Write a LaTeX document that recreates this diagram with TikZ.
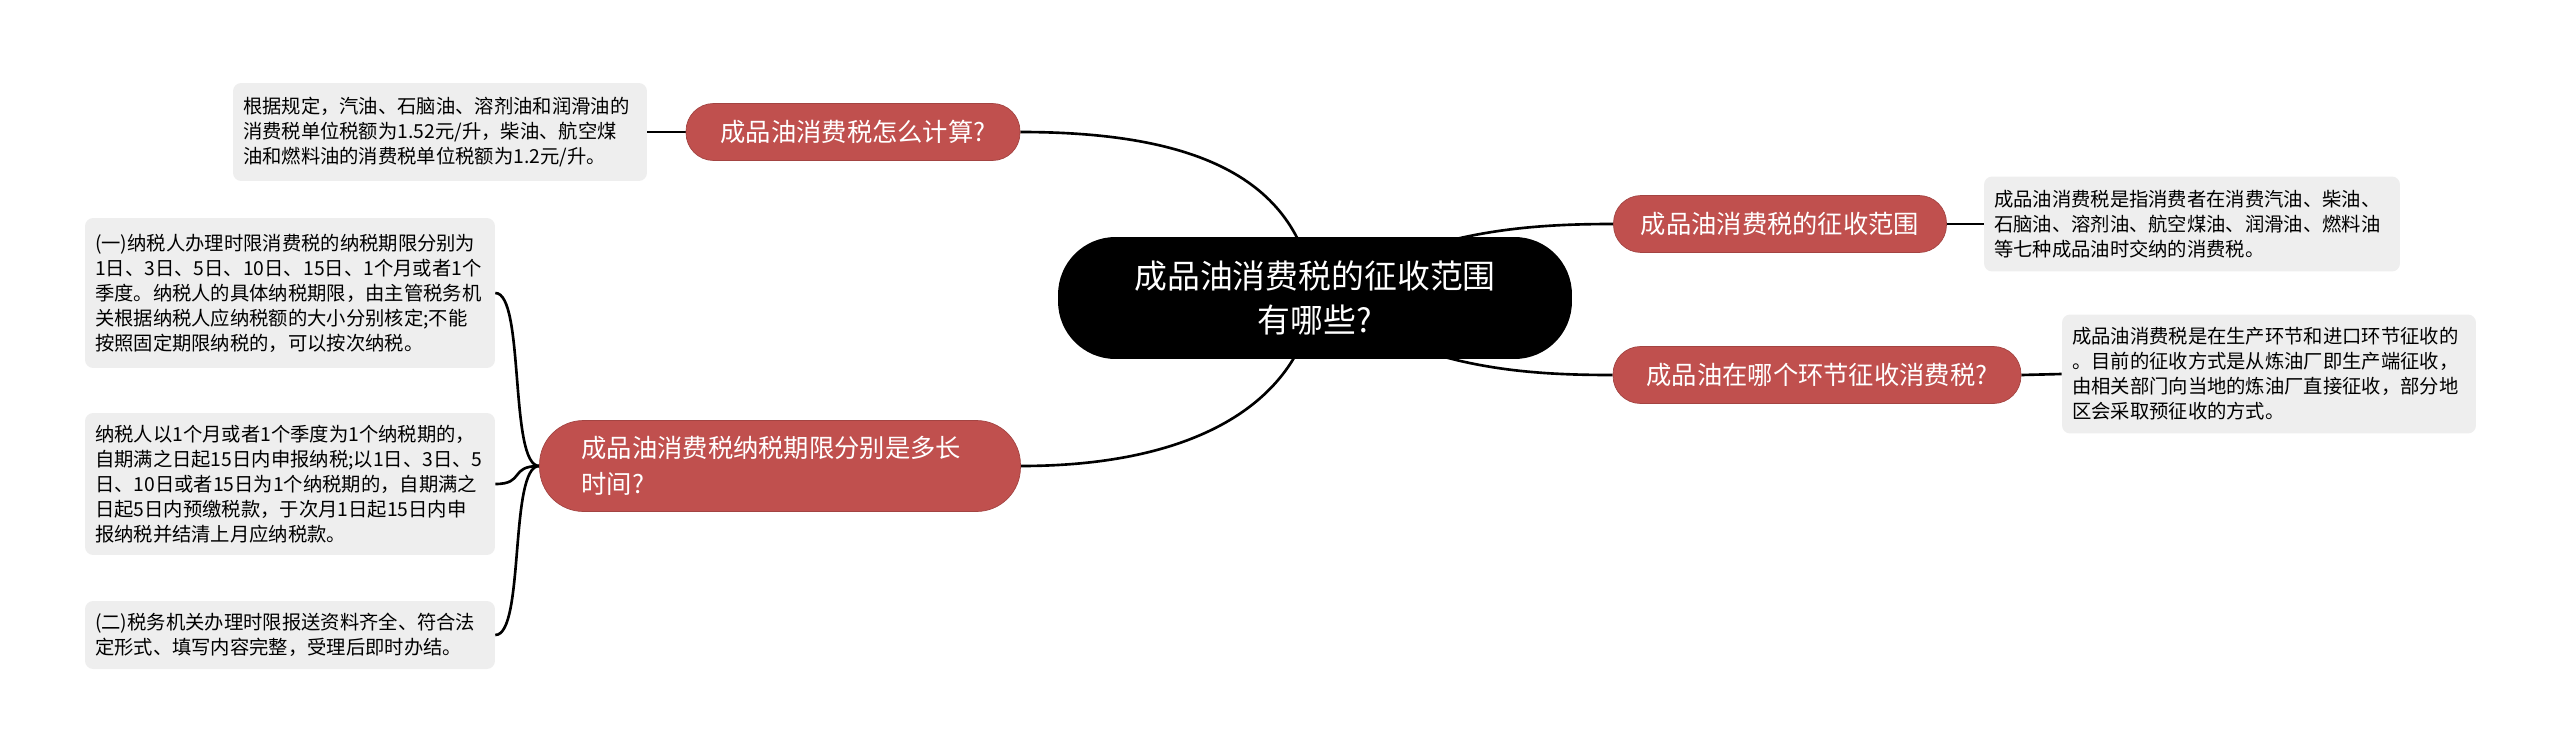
\documentclass[tikz,border=0pt]{standalone}
\usepackage{fontspec}
\setmainfont{Noto Sans CJK SC}
\usetikzlibrary{backgrounds}
\definecolor{topicred}{RGB}{192,80,78}
\definecolor{notegray}{RGB}{238,238,238}

\begin{document}
\begin{tikzpicture}[x=0.02cm, y=-0.02cm,
  rootnode/.style={fill=black, text=white, rounded corners=1.15cm, minimum width=10.28cm, minimum height=2.44cm, align=center, font=\fontsize{18.7}{25.5}\selectfont},
  topicnode/.style={fill=topicred, draw=topicred!85!black, line width=0.4pt, text=white, rounded corners=0.55cm, minimum height=1.14cm, align=center, inner sep=0pt, font=\fontsize{14.4}{20.4}\selectfont},
  notebox/.style={fill=notegray, rounded corners=0.16cm, inner xsep=0.2cm, inner ysep=0.08cm, align=left, text width=7.8cm, minimum width=8.2cm, font=\fontsize{11}{14.2}\selectfont},
  link/.style={line width=1.5pt, black}]
\useasboundingbox (0,0) rectangle (2560,754);
% Central topic
\node[rootnode] (root) at (1315,298) {成品油消费税的征收范围\\有哪些?};
% Left branches
\node[topicnode, minimum width=6.68cm] (calc) at (853,132) {成品油消费税怎么计算?};
\node[topicnode, minimum width=9.62cm, minimum height=1.82cm, rounded corners=0.88cm, align=left, text width=7.94cm, inner xsep=0.84cm] (period) at (780,466) {成品油消费税纳税期限分别是多长\\时间?};
% Right branches
\node[topicnode, minimum width=6.66cm] (scope) at (1780,224) {成品油消费税的征收范围};
\node[topicnode, minimum width=8.16cm] (stage) at (1817,375) {成品油在哪个环节征收消费税?};
% Notes
\node[notebox, text width=7.88cm, minimum width=8.28cm, minimum height=1.96cm] (calcnote) at (440,132) {根据规定，汽油、石脑油、溶剂油和润滑油的\\消费税单位税额为1.52元/升，柴油、航空煤\\油和燃料油的消费税单位税额为1.2元/升。};
\node[notebox, text width=7.92cm, minimum width=8.32cm, minimum height=1.9cm] (scopenote) at (2192,224) {成品油消费税是指消费者在消费汽油、柴油、\\石脑油、溶剂油、航空煤油、润滑油、燃料油\\等七种成品油时交纳的消费税。};
\node[notebox, text width=7.88cm, minimum width=8.28cm, minimum height=2.38cm] (stagenote) at (2269,374) {成品油消费税是在生产环节和进口环节征收的\\。目前的征收方式是从炼油厂即生产端征收，\\由相关部门向当地的炼油厂直接征收，部分地\\区会采取预征收的方式。};
\node[notebox, minimum height=3.0cm] (periodA) at (290,293) {(一)纳税人办理时限消费税的纳税期限分别为\\1日、3日、5日、10日、15日、1个月或者1个\\季度。纳税人的具体纳税期限，由主管税务机\\关根据纳税人应纳税额的大小分别核定;不能\\按照固定期限纳税的，可以按次纳税。};
\node[notebox, minimum height=2.84cm] (periodB) at (290,484) {纳税人以1个月或者1个季度为1个纳税期的，\\自期满之日起15日内申报纳税;以1日、3日、5\\日、10日或者15日为1个纳税期的，自期满之\\日起5日内预缴税款，于次月1日起15日内申\\报纳税并结清上月应纳税款。};
\node[notebox, minimum height=1.36cm] (periodC) at (290,635) {(二)税务机关办理时限报送资料齐全、符合法\\定形式、填写内容完整，受理后即时办结。};
% Connectors
\begin{scope}[on background layer]
\draw[link] (root.center) .. controls (1300,180) and (1200,132) .. (calc.east);
\draw[link] (root.center) .. controls (1300,400) and (1200,466) .. (period.east);
\draw[link] (root.center) .. controls (1420,232) and (1520,224) .. (scope.west);
\draw[link] (root.center) .. controls (1420,368) and (1520,375) .. (stage.west);
\draw[link] (calc.west) -- (calcnote.east);
\draw[link] (scope.east) -- (scopenote.west);
\draw[link] (stage.east) -- (stagenote.west);
\draw[link] (period.west) .. controls (509,466) and (525,293) .. (periodA.east);
\draw[link] (period.west) .. controls (509,466) and (525,484) .. (periodB.east);
\draw[link] (period.west) .. controls (509,466) and (525,635) .. (periodC.east);
\end{scope}
\end{tikzpicture}
\end{document}
